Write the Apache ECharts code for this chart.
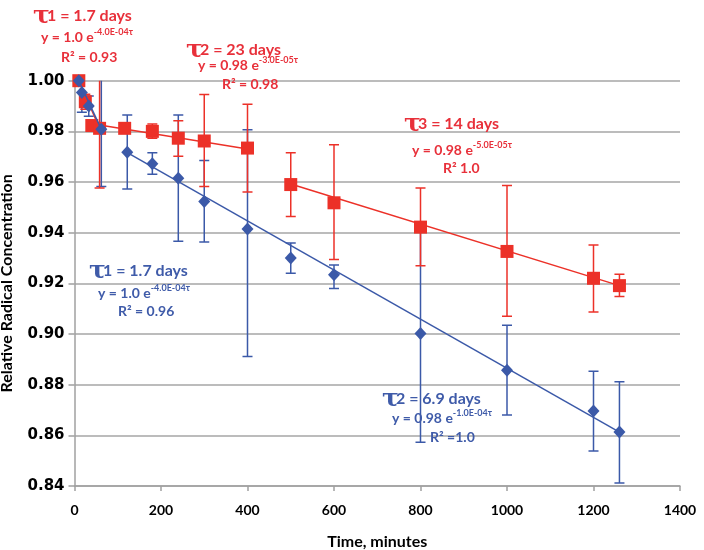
<!DOCTYPE html>
<html>
<head>
<meta charset="utf-8">
<script src="https://cdn.jsdelivr.net/npm/echarts@6/dist/echarts.min.js"></script>
<style>
html,body{margin:0;padding:0;background:#fff;}
#chart{width:704px;height:550px;}
</style>
</head>
<body>
<div id="chart"></div>
<script>
// ---- data ----
var xTicks = [0, 200, 400, 600, 800, 1000, 1200, 1400];
var yTicks = [0.84, 0.86, 0.88, 0.90, 0.92, 0.94, 0.96, 0.98, 1.00];

var redTime  = [10, 25, 40, 58, 116, 180, 240, 300, 400, 500, 600, 800, 1000, 1200, 1260];
var redValue = [1.000, 0.9917, 0.9823, 0.9812, 0.9812, 0.9800, 0.9773, 0.9762, 0.9734, 0.9590, 0.9518, 0.9422, 0.9326, 0.9220, 0.9191];
var redHigh  = [1.000, 0.9947, 0.9843, 1.0048, 0.9822, 0.9829, 0.9842, 0.9946, 0.9907, 0.9716, 0.9747, 0.9576, 0.9586, 0.9351, 0.9236];
var redLow   = [1.000, 0.9887, 0.9803, 0.9576, 0.9802, 0.9773, 0.9702, 0.9582, 0.9561, 0.9464, 0.9294, 0.9269, 0.9070, 0.9087, 0.9148];

var blueTime  = [10, 17, 33, 62, 122, 180, 240, 300, 400, 500, 600, 800, 1000, 1200, 1260];
var blueValue = [1.000, 0.9953, 0.9900, 0.9808, 0.9718, 0.9672, 0.9615, 0.9523, 0.9415, 0.9300, 0.9234, 0.9002, 0.8857, 0.8696, 0.8613];
var blueHigh  = [1.000, 1.003, 0.994, 1.0036, 0.9865, 0.9716, 0.9865, 0.9685, 0.9806, 0.9359, 0.9272, 0.9430, 0.9035, 0.8853, 0.8812];
var blueLow   = [1.000, 0.9875, 0.986, 0.9582, 0.9572, 0.9631, 0.9366, 0.9363, 0.8911, 0.9240, 0.9180, 0.8573, 0.8680, 0.8538, 0.8412];

// fitted trend segments (end points)
var redFit1Time = [10, 58],    redFit1Value = [1.000, 0.9812];
var redFit2Time = [58, 400],   redFit2Value = [0.9825, 0.9730];
var redFit3Time = [500, 1260], redFit3Value = [0.9592, 0.9191];
var blueFit1Time = [10, 62],    blueFit1Value = [1.000, 0.9808];
var blueFit2Time = [122, 1260], blueFit2Value = [0.9716, 0.8613];

var RED = '#ec3128', BLUE = '#3b59a8';
var RED_T = '#e8303a', BLUE_T = '#3f5ba9';
var FONT = 'Lato, "Open Sans", sans-serif';

function pairs(t, v) { return t.map(function (x, i) { return [x, v[i]]; }); }

function errSeries(times, low, high, color, z) {
  return {
    type: 'custom',
    clip: true,
    z: z,
    silent: true,
    data: times.map(function (t, i) { return [t, low[i], high[i]]; }),
    encode: { x: 0, y: [1, 2] },
    renderItem: function (params, api) {
      var x = api.value(0);
      var lo = api.coord([x, api.value(1)]);
      var hi = api.coord([x, api.value(2)]);
      var hw = 5;
      var st = { stroke: color, lineWidth: 1.5 };
      return {
        type: 'group',
        children: [
          { type: 'line', shape: { x1: lo[0], y1: lo[1], x2: hi[0], y2: hi[1] }, style: st },
          { type: 'line', shape: { x1: lo[0] - hw, y1: lo[1], x2: lo[0] + hw, y2: lo[1] }, style: st },
          { type: 'line', shape: { x1: hi[0] - hw, y1: hi[1], x2: hi[0] + hw, y2: hi[1] }, style: st }
        ]
      };
    }
  };
}

function fitSeries(t, v, color, z) {
  return {
    type: 'line', data: pairs(t, v), symbol: 'none', z: z, silent: true,
    lineStyle: { color: color, width: 1.5 }, animation: false
  };
}

// tau heading: big tau glyph + rest of the text
function tauLabel(x, y, rest, color) {
  return [
    { type: 'text', x: x, y: y + 1, z: 100,
      style: { text: 'τ', fill: color, font: 'bold 25px "DejaVu Serif", serif',
               verticalAlign: 'middle', textVerticalAlign: 'middle' } },
    { type: 'text', x: x + 14, y: y + 1, z: 100,
      style: { text: rest, fill: color, font: 'bold 16px ' + FONT,
               verticalAlign: 'middle', textVerticalAlign: 'middle' } }
  ];
}

function eqLabel(x, y, parts, color) {
  return {
    type: 'text', x: x, y: y, z: 100,
    style: {
      text: parts, fill: color, verticalAlign: 'middle', textVerticalAlign: 'middle',
      rich: {
        e:   { fontFamily: FONT, fontWeight: 'bold', fontSize: 14, fill: color, lineHeight: 18 },
        sup: { fontFamily: FONT, fontWeight: 'bold', fontSize: 9, fill: color, lineHeight: 18, verticalAlign: 'top' }
      }
    }
  };
}

var graphics = [].concat(
  tauLabel(33, 15, '1 = 1.7 days', RED_T),
  [eqLabel(41, 37, '{e|y = 1.0 e}{sup|-4.0E-04τ}', RED_T),
   eqLabel(61, 57, '{e|R² = 0.93}', RED_T)],
  tauLabel(186, 49, '2 = 23 days', RED_T),
  [eqLabel(198, 65, '{e|y = 0.98 e}{sup|-3.0E-05τ}', RED_T),
   eqLabel(222, 84, '{e|R² = 0.98}', RED_T)],
  tauLabel(404, 123, '3 = 14 days', RED_T),
  [eqLabel(412, 150, '{e|y = 0.98 e}{sup|-5.0E-05τ}', RED_T),
   eqLabel(443, 168, '{e|R² 1.0}', RED_T)],
  tauLabel(89, 270, '1 = 1.7 days', BLUE_T),
  [eqLabel(98, 293, '{e|y = 1.0 e}{sup|-4.0E-04τ}', BLUE_T),
   eqLabel(118, 311, '{e|R² = 0.96}', BLUE_T)],
  tauLabel(382, 398, '2 = 6.9 days', BLUE_T),
  [eqLabel(392, 418, '{e|y = 0.98 e}{sup|-1.0E-04τ}', BLUE_T),
   eqLabel(430, 437, '{e|R² =1.0}', BLUE_T)]
);

var chart = echarts.init(document.getElementById('chart'));
chart.setOption({
  animation: false,
  backgroundColor: '#ffffff',
  grid: { left: 74.5, right: 24, top: 80.7, bottom: 64, containLabel: false, outerBoundsMode: 'none' },
  xAxis: {
    type: 'value', min: xTicks[0], max: xTicks[xTicks.length - 1], interval: 200,
    name: 'Time, minutes', nameLocation: 'middle', nameGap: 48,
    nameTextStyle: { fontFamily: FONT, fontWeight: 'bold', fontSize: 16, color: '#000' },
    axisLine: { lineStyle: { color: '#a0a0a0', width: 1.5 } },
    axisTick: { show: true, length: 5, lineStyle: { color: '#a0a0a0', width: 1.5 } },
    axisLabel: { fontFamily: FONT, fontWeight: 'bold', fontSize: 14, color: '#000', margin: 17,
      formatter: function (v) { return String(v); } },
    splitLine: { show: false }
  },
  yAxis: {
    type: 'value', min: yTicks[0], max: yTicks[yTicks.length - 1], interval: 0.02,
    name: 'Relative Radical Concentration', nameLocation: 'middle', nameGap: 60,
    nameTextStyle: { fontFamily: FONT, fontWeight: 'bold', fontSize: 16, color: '#000' },
    axisLine: { show: true, lineStyle: { color: '#a0a0a0', width: 1.5 } },
    axisTick: { show: true, length: 6, lineStyle: { color: '#a0a0a0', width: 1.5 } },
    axisLabel: { fontFamily: '"DejaVu Sans", sans-serif', fontWeight: 'bold', fontSize: 15, color: '#000', margin: 10,
      formatter: function (v) { return v.toFixed(2); } },
    splitLine: { show: true, lineStyle: { color: '#a6a6a6', width: 1.5 } }
  },
  series: [
    errSeries(blueTime, blueLow, blueHigh, BLUE, 2),
    errSeries(redTime, redLow, redHigh, RED, 3),
    fitSeries(redFit1Time, redFit1Value, RED, 4),
    fitSeries(redFit2Time, redFit2Value, RED, 4),
    fitSeries(redFit3Time, redFit3Value, RED, 4),
    { type: 'scatter', data: pairs(redTime, redValue), symbol: 'rect', symbolSize: 13, z: 5,
      itemStyle: { color: RED, opacity: 1 } },
    fitSeries(blueFit1Time, blueFit1Value, BLUE, 6),
    fitSeries(blueFit2Time, blueFit2Value, BLUE, 6),
    { type: 'scatter', data: pairs(blueTime, blueValue), symbol: 'diamond', symbolSize: [12, 13], z: 7,
      itemStyle: { color: BLUE, opacity: 1 } }
  ],
  graphic: graphics
});
</script>
</body>
</html>
